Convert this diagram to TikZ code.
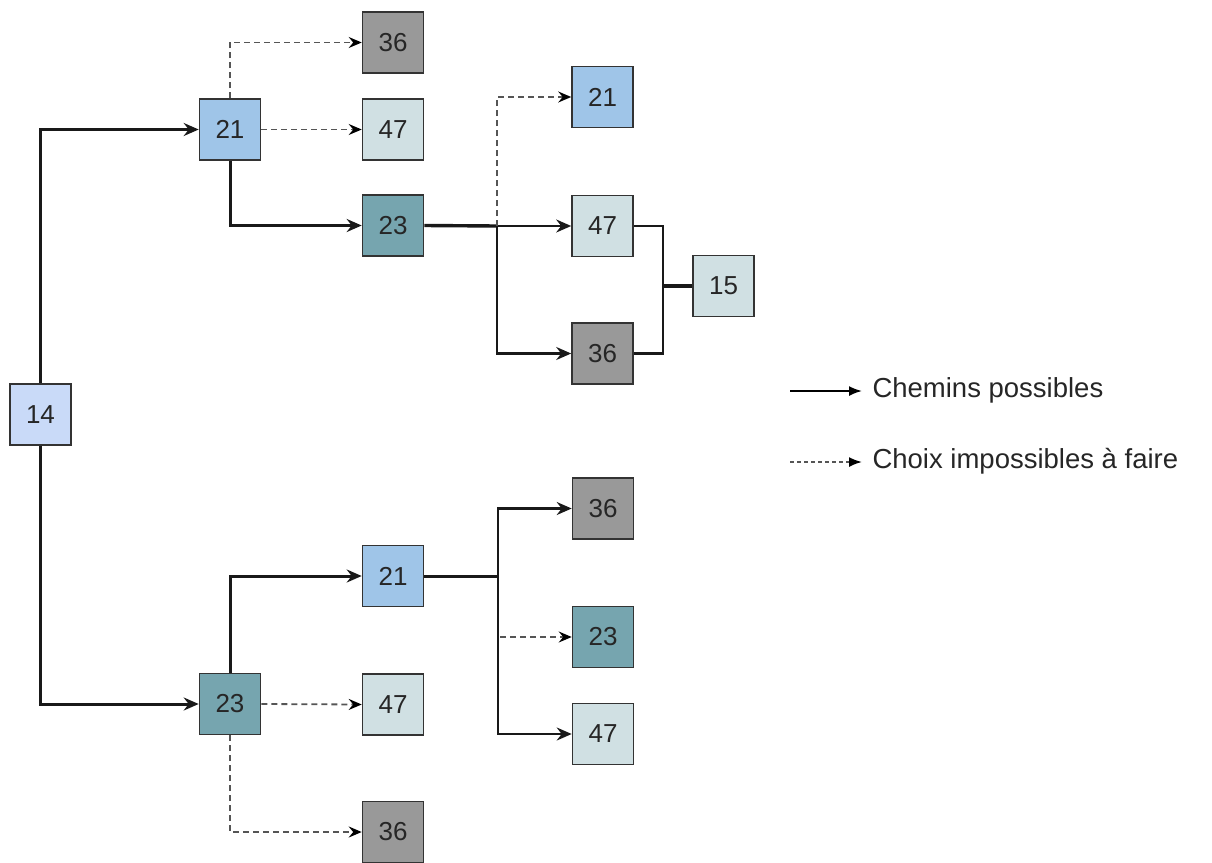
\documentclass[tikz,border=0pt]{standalone}
\usepackage{fontspec}
\setmainfont{Liberation Sans}
\usetikzlibrary{arrows.meta}
\definecolor{cA}{HTML}{C9DAF8}
\definecolor{cB}{HTML}{9FC5E8}
\definecolor{cC}{HTML}{76A5AF}
\definecolor{cD}{HTML}{D0E0E3}
\definecolor{cE}{HTML}{999999}
\definecolor{dashgray}{HTML}{555555}
\tikzset{
  box/.style={draw=black!80, line width=1.6pt, minimum width=61pt, minimum height=61pt, inner sep=0pt, font=\fontsize{26}{30}\selectfont, text=black!85},
  ok/.style={line width=3pt, draw=black!90},
  okarrow/.style={ok, -{Stealth[length=15pt,width=13pt,inset=5pt]}},
  no/.style={line width=1.8pt, draw=dashgray, dash pattern=on 6pt off 4pt},
  noarrow/.style={no, -{Stealth[length=13pt,width=11pt,inset=4.5pt,color=black]}},
  legtext/.style={anchor=west, font=\fontsize{27.5}{32}\selectfont, text=black!85}
}
\begin{document}
\begin{tikzpicture}[x=1pt,y=-1pt]
\useasboundingbox (0,0) rectangle (1212,862);
% nodes
\node[box, fill=cA] (n14) at (40.5,414.5) {14};
\node[box, fill=cB] (a21) at (230,129.5) {21};
\node[box, fill=cE] (a36) at (393,42.5) {36};
\node[box, fill=cD] (a47) at (393,129.5) {47};
\node[box, fill=cC] (a23) at (393,225.5) {23};
\node[box, fill=cB] (c21) at (602.5,97) {21};
\node[box, fill=cD] (c47) at (602.5,226) {47};
\node[box, fill=cE] (c36) at (602.5,353.5) {36};
\node[box, fill=cD] (n15) at (723.5,286) {15};
\node[box, fill=cC] (b23) at (230,704) {23};
\node[box, fill=cB] (b21) at (393,576) {21};
\node[box, fill=cD] (b47) at (393,704.5) {47};
\node[box, fill=cE] (b36) at (393,832) {36};
\node[box, fill=cE] (d36) at (603,508.5) {36};
\node[box, fill=cC] (d23) at (603,637) {23};
\node[box, fill=cD] (d47) at (603,734) {47};
% junctions
\coordinate (j1) at (497,226);
\coordinate (j2) at (663,226);
\coordinate (j3) at (663,353.5);
\coordinate (j4) at (663,286);
\coordinate (j5) at (498,576);
\coordinate (j6) at (500,637);
% solid paths
\draw[okarrow] (n14.north) |- (a21.west);
\draw[okarrow] (n14.south) |- (b23.west);
\draw[okarrow] (a21.south) |- (a23.west);
\draw[ok, line width=3.4pt] (a23.east) -- (j1);
\draw[okarrow, line width=2.3pt] (j1) -- (c47.west);
\draw[okarrow, line width=2.3pt] (j1) |- (c36.west);
\draw[ok, line width=2.3pt] (c47.east) -| (j2) -- (j3) -- (c36.east);
\draw[ok, line width=4pt] (j4) -- (n15.west);
\draw[okarrow] (b23.north) |- (b21.west);
\draw[ok] (b21.east) -- (j5);
\draw[okarrow, line width=2.3pt] (j5) |- (d36.west);
\draw[okarrow, line width=2.3pt] (j5) |- (d47.west);
% dashed paths
\draw[noarrow] (a21.north) |- (a36.west);
\draw[noarrow] (a21.east) -- (a47.west);
\draw[noarrow, line width=1.5pt] (j1) |- (c21.west);
\draw[noarrow] (b23.east) -- (b47.west);
\draw[noarrow] (b23.south) |- (b36.west);
\draw[noarrow, line width=1.5pt] (j6) -- (d23.west);
% legend
\coordinate (l1s) at (790,391);
\coordinate (l1e) at (862,391);
\coordinate (l2s) at (790,462);
\coordinate (l2e) at (862,462);
\draw[line width=1.8pt, -{Latex[length=13pt,width=10pt]}] (l1s) -- (l1e);
\draw[line width=1.8pt, draw=dashgray, dash pattern=on 4pt off 3pt, -{Latex[length=13pt,width=10pt,color=black]}] (l2s) -- (l2e);
\node[legtext] (t1) at (869,390) {Chemins possibles};
\node[legtext] (t2) at (869,461) {Choix impossibles à faire};
\end{tikzpicture}
\end{document}
